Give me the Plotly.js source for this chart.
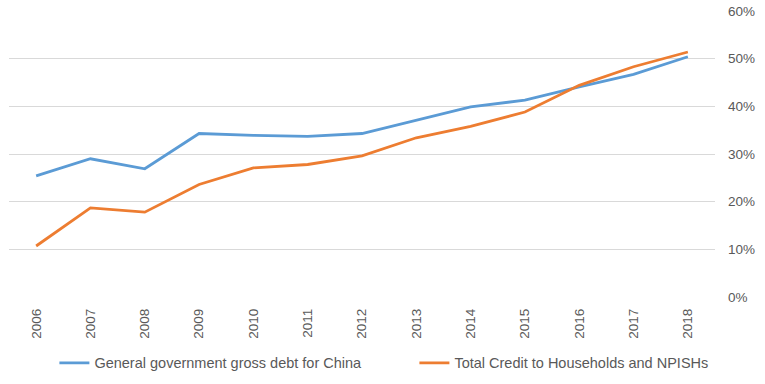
<!DOCTYPE html>
<html>
<head>
<meta charset="utf-8">
<script src="https://cdn.plot.ly/plotly-3.0.1.min.js"></script>
<style>html,body{margin:0;padding:0;background:#fff;}#chart{width:765px;height:384px;}</style>
</head>
<body>
<div id="chart"></div>
<script>
const years = ["2006","2007","2008","2009","2010","2011","2012","2013","2014","2015","2016","2017","2018"];
const govDebt = [0.254,0.290,0.269,0.343,0.339,0.337,0.343,0.371,0.399,0.413,0.441,0.467,0.504];
const householdCredit = [0.107,0.187,0.178,0.236,0.271,0.278,0.296,0.334,0.358,0.388,0.444,0.483,0.514];
const seriesNames = ["General government gross debt for China","Total Credit to Households and NPISHs"];
const seriesColors = ["#5B9BD5","#ED7D31"];

const tickFont = {family: "Liberation Sans, Arial, sans-serif", size: 13.5, color: "#595959"};
const legendFont = {family: "Liberation Sans, Arial, sans-serif", size: 14.5, color: "#595959"};

const traces = [
  {x: years, y: govDebt, name: seriesNames[0], type: "scatter", mode: "lines",
   line: {color: seriesColors[0], width: 2.8}, legend: "legend"},
  {x: years, y: householdCredit, name: seriesNames[1], type: "scatter", mode: "lines",
   line: {color: seriesColors[1], width: 2.8}, legend: "legend2"}
];

const legendBase = {orientation: "h", xref: "container", yref: "container", y: 0.055,
  xanchor: "left", yanchor: "middle", font: legendFont, itemwidth: 30, bgcolor: "rgba(0,0,0,0)"};

const layout = {
  width: 765, height: 384,
  margin: {l: 9, r: 50, t: 11, b: 87, pad: 0},
  paper_bgcolor: "#fff", plot_bgcolor: "#fff",
  font: tickFont,
  showlegend: true,
  legend: Object.assign({}, legendBase, {x: 0.0711}),
  legend2: Object.assign({}, legendBase, {x: 0.5417}),
  xaxis: {type: "category", range: [-0.5, 12.5], tickangle: -90, showgrid: false,
          zeroline: false, showline: false, ticks: "", ticklabelstandoff: 8,
          tickfont: tickFont, fixedrange: true},
  yaxis: {side: "right", range: [0, 0.6], dtick: 0.1, tick0: 0, tickformat: ".0%",
          showgrid: true, gridcolor: "#D9D9D9", gridwidth: 1, zeroline: false,
          showline: false, ticks: "", ticklabelstandoff: 12, tickfont: tickFont, fixedrange: true}
};

Plotly.newPlot("chart", traces, layout, {displayModeBar: false, staticPlot: true});
</script>
</body>
</html>
